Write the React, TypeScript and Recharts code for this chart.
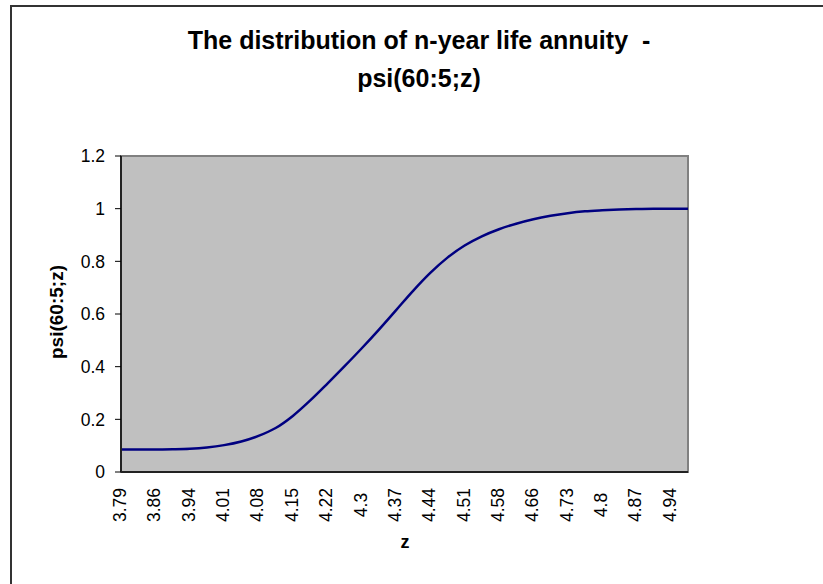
import React from 'react';
import { LineChart, Line, XAxis, YAxis, ReferenceArea } from 'recharts';

const Z_CATEGORIES = [
  '3.79', '3.83', '3.86', '3.9', '3.94', '3.97', '4.01', '4.04', '4.08', '4.12',
  '4.15', '4.19', '4.22', '4.26', '4.3', '4.33', '4.37', '4.4', '4.44', '4.48',
  '4.51', '4.55', '4.58', '4.62', '4.66', '4.69', '4.73', '4.76', '4.8', '4.84',
  '4.87', '4.91', '4.94', '4.98',
];

const PSI_VALUES = [
  0.085, 0.085, 0.085, 0.086, 0.088, 0.093, 0.102, 0.116, 0.137, 0.167,
  0.213, 0.271, 0.335, 0.401, 0.469, 0.54, 0.614, 0.688, 0.756, 0.814,
  0.86, 0.895, 0.922, 0.943, 0.96, 0.973, 0.983, 0.99, 0.994, 0.997,
  0.999, 1.0, 1.0, 1.0,
];

const X_TICKS = [
  '3.79', '3.86', '3.94', '4.01', '4.08', '4.15', '4.22', '4.3', '4.37',
  '4.44', '4.51', '4.58', '4.66', '4.73', '4.8', '4.87', '4.94',
];

const Y_TICKS = [0, 0.2, 0.4, 0.6, 0.8, 1, 1.2];

const TITLE_LINES = ['The distribution of n-year life annuity  -', 'psi(60:5;z)'];
const Y_TITLE = 'psi(60:5;z)';
const X_TITLE = 'z';

const data = Z_CATEGORIES.map((z, i) => ({ z, psi: PSI_VALUES[i] }));

const FONT = '"Liberation Sans", Arial, Helvetica, sans-serif';

const XTick = (props: any) => {
  const { x, y, payload } = props;
  const cy = y + 33;
  const cx = x - 1;
  return (
    <text
      x={cx}
      y={cy}
      transform={`rotate(-90, ${cx}, ${cy})`}
      textAnchor="middle"
      dominantBaseline="central"
      fontSize={17.5}
      fontFamily={FONT}
      fill="#000"
    >
      {payload.value}
    </text>
  );
};

export default function App() {
  return (
    <div
      style={{
        position: 'absolute',
        left: 0,
        top: 0,
        width: 823,
        height: 584,
        overflow: 'hidden',
        background: '#fff',
      }}
    >
      <div
        style={{
          position: 'absolute',
          left: 10,
          top: 5,
          width: 900,
          height: 700,
          border: '2px solid #333',
        }}
      />
      <div style={{ position: 'absolute', left: 0, top: 0 }}>
        <LineChart
          width={823}
          height={584}
          data={data}
          margin={{ top: 156, right: 135, bottom: 52, left: 61 }}
        >
          <ReferenceArea
            x1="3.79"
            x2="4.98"
            y1={0}
            y2={1.2}
            fill="#C0C0C0"
            fillOpacity={1}
            stroke="#808080"
            strokeWidth={2}
            ifOverflow="visible"
          />
          <XAxis
            dataKey="z"
            type="category"
            ticks={X_TICKS}
            interval={0}
            tickLine={false}
            tickSize={0}
            tickMargin={0}
            height={60}
            axisLine={{ stroke: '#222', strokeWidth: 2 }}
            tick={<XTick />}
          />
          <YAxis
            type="number"
            domain={[0, 1.2]}
            ticks={Y_TICKS}
            interval={0}
            width={60}
            tickSize={6}
            tickMargin={10}
            tickFormatter={(v: number) => String(v)}
            tickLine={{ stroke: '#000', strokeWidth: 1 }}
            axisLine={{ stroke: '#222', strokeWidth: 2 }}
            tick={{ fill: '#000', fontSize: 17.5, fontFamily: FONT }}
          />
          <Line
            type="monotone"
            dataKey="psi"
            stroke="#000080"
            strokeWidth={2.5}
            dot={false}
            activeDot={false}
            isAnimationActive={false}
          />
        </LineChart>
      </div>
      <svg
        width={823}
        height={584}
        style={{ position: 'absolute', left: 0, top: 0, pointerEvents: 'none' }}
      >
        <text
          x={419}
          y={48.5}
          textAnchor="middle"
          fontSize={25}
          fontWeight="bold"
          fontFamily={FONT}
          fill="#000"
          style={{ whiteSpace: 'pre' }}
        >
          {TITLE_LINES[0]}
        </text>
        <text
          x={419}
          y={87}
          textAnchor="middle"
          fontSize={25}
          fontWeight="bold"
          fontFamily={FONT}
          fill="#000"
        >
          {TITLE_LINES[1]}
        </text>
        <text
          x={63}
          y={312}
          transform="rotate(-90, 63, 312)"
          textAnchor="middle"
          fontSize={19}
          fontWeight="bold"
          fontFamily={FONT}
          fill="#000"
        >
          {Y_TITLE}
        </text>
        <text
          x={405}
          y={548}
          textAnchor="middle"
          fontSize={18}
          fontWeight="bold"
          fontFamily={FONT}
          fill="#000"
        >
          {X_TITLE}
        </text>
      </svg>
    </div>
  );
}
